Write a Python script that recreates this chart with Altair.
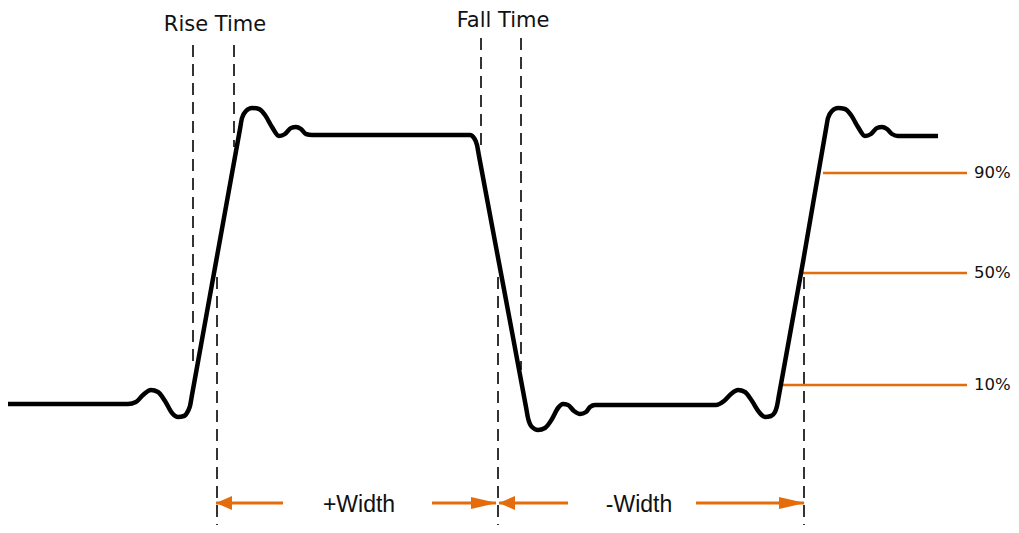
import altair as alt
import pandas as pd

# Waveform trace (diagram units: x to the right, y downward)
wave_x = [8, 128, 136, 143, 151, 158, 165, 172, 178, 184, 188, 190, 192, 216, 240, 242, 246, 252, 259, 265,
          272, 279, 285, 291, 296, 301, 306, 312, 470, 474, 477, 479, 503, 526, 528, 532, 538, 545, 552, 558,
          563, 568, 574, 580, 586, 590, 595, 716, 724, 731, 738, 745, 752, 759, 765, 771, 775, 777, 779, 803,
          826, 828, 832, 838, 845, 851, 858, 865, 871, 877, 882, 887, 892, 898, 938]
wave_y = [404, 404, 402, 395, 390, 392, 401, 413, 417, 416, 411, 406, 395, 262, 129, 118, 111, 108, 109, 115,
          127, 136, 134, 128, 127, 129, 134, 135, 135, 138, 145, 156, 284, 407, 418, 427, 430, 428, 419, 408,
          404, 405, 411, 414, 412, 407, 405, 405, 401, 394, 390, 392, 401, 412, 417, 416, 412, 406, 395, 262,
          129, 118, 111, 108, 109, 115, 127, 136, 134, 128, 127, 129, 134, 136, 136]

# Dashed measurement markers
dash_x = [193, 234, 217, 481, 521, 498, 804]
dash_top = [45, 45, 277, 38, 38, 277, 277]
dash_bottom = [365, 147, 525, 147, 370, 525, 525]

# Threshold levels
level_labels = ["90%", "50%", "10%"]
level_y = [173, 273, 385]
level_start = [823, 803, 783]
level_end = [967, 967, 967]

# Width arrows
shaft_start = [216, 432, 499, 696]
shaft_end = [283, 496, 568, 804]
arrow_y = 503
left_tips = [216, 499]
right_tips = [497, 805]

# Text labels
top_labels = ["Rise Time", "Fall Time"]
top_x = [215, 503]
top_y = [31, 27]
width_labels = ["+Width", "-Width"]
width_x = [359, 639]
width_y = [512, 512]

ORANGE = "#E46C0A"

xs = alt.Scale(domain=[8, 1011], nice=False, zero=False)
ys = alt.Scale(domain=[8, 525], reverse=True, nice=False, zero=False)

wave = pd.DataFrame({"x": wave_x, "y": wave_y})
dashes = pd.DataFrame({"x": dash_x, "y": dash_top, "y2": dash_bottom})
levels = pd.DataFrame({"label": level_labels, "y": level_y, "x": level_start, "x2": level_end,
                       "tx": [974] * 3})
shafts = pd.DataFrame({"x": shaft_start, "x2": shaft_end, "y": [arrow_y] * len(shaft_start)})
lheads = pd.DataFrame({"x": left_tips, "y": [arrow_y] * len(left_tips)})
rheads = pd.DataFrame({"x": right_tips, "y": [arrow_y] * len(right_tips)})
tops = pd.DataFrame({"label": top_labels, "x": top_x, "y": top_y})
widths = pd.DataFrame({"label": width_labels, "x": width_x, "y": width_y})

dash_layer = alt.Chart(dashes).mark_rule(strokeDash=[12, 7], strokeWidth=2, color="#333333").encode(
    x=alt.X("x:Q", scale=xs, axis=None),
    y=alt.Y("y:Q", scale=ys, axis=None),
    y2="y2:Q",
)

level_layer = alt.Chart(levels).mark_rule(strokeWidth=2.5, color=ORANGE).encode(
    x=alt.X("x:Q", scale=xs, axis=None),
    x2="x2:Q",
    y=alt.Y("y:Q", scale=ys, axis=None),
)

level_text = alt.Chart(levels).mark_text(align="left", baseline="middle", font="DejaVu Sans",
                                         fontSize=16.5, color="#111111").encode(
    x=alt.X("tx:Q", scale=xs, axis=None),
    y=alt.Y("y:Q", scale=ys, axis=None),
    text="label:N",
)

shaft_layer = alt.Chart(shafts).mark_rule(strokeWidth=3, color=ORANGE).encode(
    x=alt.X("x:Q", scale=xs, axis=None),
    x2="x2:Q",
    y=alt.Y("y:Q", scale=ys, axis=None),
)

lhead_layer = alt.Chart(lheads).mark_point(shape="M0,0L2,-0.875L2,0.875Z", size=256, filled=True,
                                           opacity=1, color=ORANGE, strokeWidth=0).encode(
    x=alt.X("x:Q", scale=xs, axis=None),
    y=alt.Y("y:Q", scale=ys, axis=None),
)

rhead_layer = alt.Chart(rheads).mark_point(shape="M0,0L-2,-0.46L-2,0.46Z", size=676, filled=True,
                                           opacity=1, color=ORANGE, strokeWidth=0).encode(
    x=alt.X("x:Q", scale=xs, axis=None),
    y=alt.Y("y:Q", scale=ys, axis=None),
)

wave_layer = alt.Chart(wave).mark_line(interpolate="monotone", strokeWidth=4.5, color="#000000",
                                       strokeJoin="round").encode(
    x=alt.X("x:Q", scale=xs, axis=None),
    y=alt.Y("y:Q", scale=ys, axis=None),
    order="x:Q",
)

top_text = alt.Chart(tops).mark_text(align="center", baseline="alphabetic", font="DejaVu Sans",
                                     fontSize=21, color="#111111").encode(
    x=alt.X("x:Q", scale=xs, axis=None),
    y=alt.Y("y:Q", scale=ys, axis=None),
    text="label:N",
)

width_text = alt.Chart(widths).mark_text(align="center", baseline="alphabetic", font="Liberation Sans",
                                         fontSize=23, color="#111111").encode(
    x=alt.X("x:Q", scale=xs, axis=None),
    y=alt.Y("y:Q", scale=ys, axis=None),
    text="label:N",
)

chart = alt.layer(
    dash_layer, level_layer, shaft_layer, lhead_layer, rhead_layer, wave_layer,
    level_text, top_text, width_text,
).properties(
    width=1003, height=517,
    autosize=alt.AutoSizeParams(type="none"),
    padding=0,
    background="white",
).configure_view(stroke=None)

chart.save("out.html", embed_options={"renderer": "svg", "actions": False})
